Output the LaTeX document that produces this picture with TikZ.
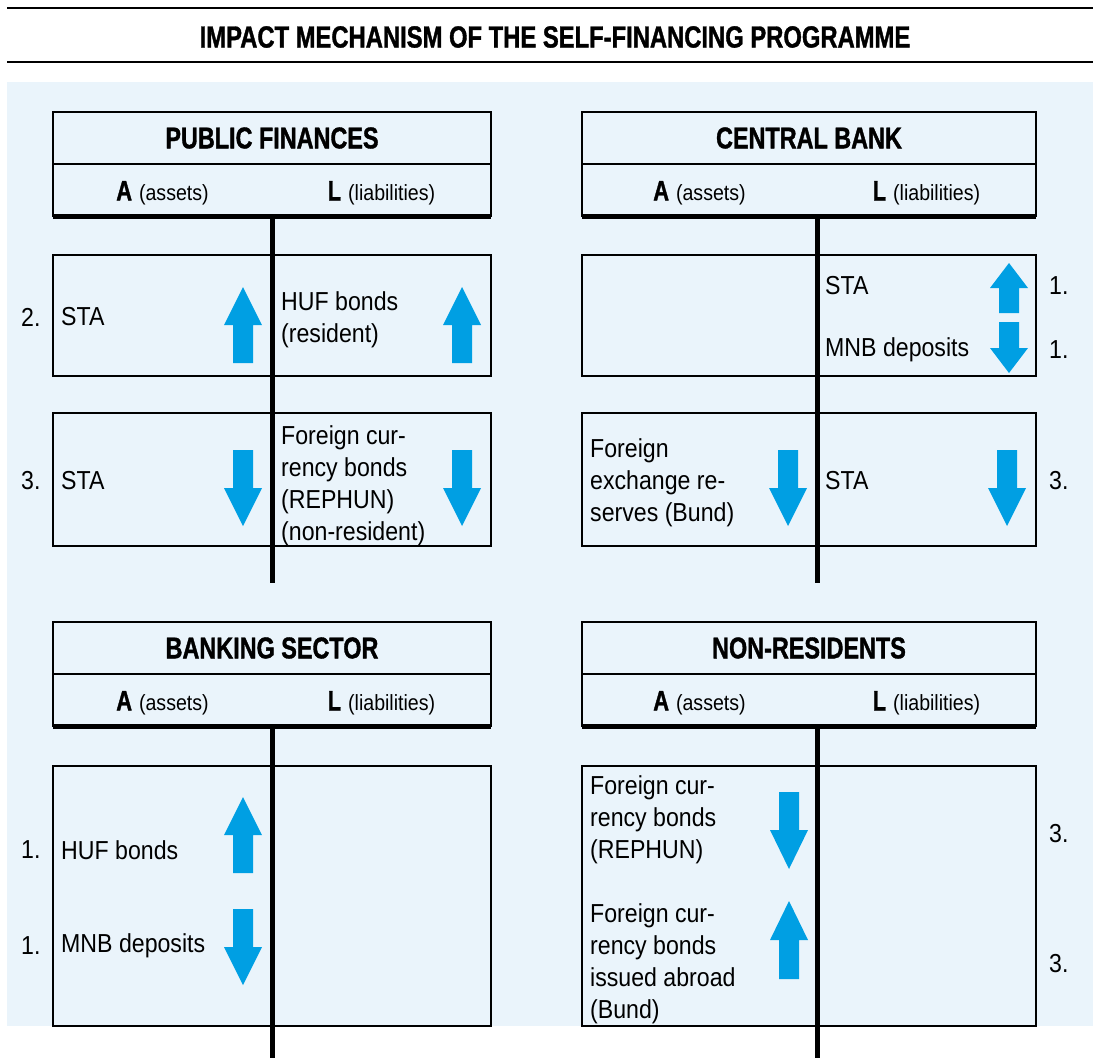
\documentclass[tikz,border=0pt]{standalone}
\usepackage{fontspec}
\setmainfont{Liberation Sans}[FakeStretch=0.89]
\newfontfamily\narrowbf{Liberation Sans}[FakeStretch=0.78,FakeBold=1.2]
\usetikzlibrary{positioning}

\definecolor{panelbg}{HTML}{EAF4FB}
\definecolor{arrowblue}{HTML}{009FE3}

\newcommand{\entryfont}{\fontsize{26}{32}\selectfont}
\newcommand{\headfont}{\narrowbf\bfseries\fontsize{30}{36}\selectfont}
\newcommand{\colhead}[2]{{\narrowbf\bfseries\fontsize{28}{30}\selectfont #1}\hspace{7pt}{\fontsize{22}{26}\selectfont(#2)}}

% block arrows: x centre, tip (or top) y, length, head length
\newcommand{\blockup}[4]{%
  \fill[arrowblue] (#1,#2) -- ({#1+19},{#2+#4}) -- ({#1+10},{#2+#4}) -- ({#1+10},{#2+#3})
    -- ({#1-10},{#2+#3}) -- ({#1-10},{#2+#4}) -- ({#1-19},{#2+#4}) -- cycle;}
\newcommand{\blockdown}[4]{%
  \fill[arrowblue] (#1,{#2+#3}) -- ({#1+19},{#2+#3-#4}) -- ({#1+10},{#2+#3-#4}) -- ({#1+10},#2)
    -- ({#1-10},#2) -- ({#1-10},{#2+#3-#4}) -- ({#1-19},{#2+#3-#4}) -- cycle;}

\tikzset{
  frame/.style={draw, line width=2.5pt},
  rule/.style={draw, line width=5pt},
  entry/.style={anchor=west, align=left, inner sep=0pt, font=\entryfont},
  numlabel/.style={anchor=west, inner sep=0pt, font=\entryfont},
  paneltitle/.style={inner sep=0pt, font=\headfont},
}

\begin{document}
\begin{tikzpicture}[x=1pt,y=-1pt]
	\useasboundingbox (0,0) rectangle (1093,1058);
	\fill[panelbg] (7,82) rectangle (1093,1026);
	\draw[line width=2pt] (7,8) -- (1093,8);
	\draw[line width=2pt] (7,62) -- (1093,62);
	\node[inner sep=0pt] (title) at (555,37)
		{\narrowbf\bfseries\fontsize{30.5}{36}\selectfont IMPACT MECHANISM OF THE SELF-FINANCING PROGRAMME};

	% entry boxes
	\draw[frame] (53,255) rectangle (491,376);
	\draw[frame] (53,413) rectangle (491,546);
	\draw[frame] (582,255) rectangle (1036,376);
	\draw[frame] (582,413) rectangle (1036,546);
	\draw[frame] (53,766) rectangle (491,1026);
	\draw[frame] (582,766) rectangle (1036,1026);

	% T-account heads
	\foreach \nm/\xl/\xr/\xv/\yt/\yb/\ttl in {pf/53/491/272/112/583/PUBLIC FINANCES,
			cb/582/1036/817/112/583/CENTRAL BANK, bs/53/491/272/622/1058/BANKING SECTOR,
			nr/582/1036/817/622/1058/NON-RESIDENTS}{
		\draw[frame] (\xl,\yt) rectangle (\xr,{\yt+104});
		\draw[frame] (\xl,{\yt+52}) -- (\xr,{\yt+52});
		\draw[rule] (\xl,{\yt+104}) -- (\xr,{\yt+104});
		\node[paneltitle] (\nm) at ({(\xl+\xr)/2},{\yt+26}) {\ttl};
		\node[inner sep=0pt] (\nm-A) at ({(\xl+\xv)/2},{\yt+81}) {\colhead{A}{assets}};
		\node[inner sep=0pt] (\nm-L) at ({(\xv+\xr)/2},{\yt+81}) {\colhead{L}{liabilities}};
		\coordinate (\nm-top) at (\xv,{\yt+104});
		\coordinate (\nm-bot) at (\xv,\yb);
		\draw[rule] (\nm-top) -- (\nm-bot);
	}

	% public finances
	\node[numlabel] (pf2) at (21,317) {2.};
	\node[entry] (pfsta) at (61,317) {STA};
	\node[entry] (pfhuf) at (281,320) {HUF bonds\\(resident)};
	\blockup{243}{287}{76}{38}
	\blockup{462}{287}{76}{38}
	\node[numlabel] (pf3) at (21,481) {3.};
	\node[entry] (pfsta2) at (61,481) {STA};
	\node[entry] (pffx) at (281,486) {Foreign cur-\\rency bonds\\(REPHUN)\\(non-resident)};
	\blockdown{243}{450}{76}{38}
	\blockdown{462}{450}{76}{38}

	% central bank
	\node[entry] (cbsta) at (825,286) {STA};
	\node[entry] (cbmnb) at (825,350) {MNB deposits};
	\node[numlabel] (cb1a) at (1049,286) {1.};
	\node[numlabel] (cb1b) at (1049,350) {1.};
	\blockup{1009}{263}{50}{25}
	\blockdown{1009}{322}{51}{25}
	\node[entry] (cbfx) at (590,483) {Foreign\\exchange re-\\serves (Bund)};
	\node[entry] (cbsta2) at (825,481) {STA};
	\node[numlabel] (cb3) at (1049,481) {3.};
	\blockdown{788}{450}{76}{38}
	\blockdown{1007}{450}{76}{38}

	% banking sector
	\node[numlabel] (bs1a) at (21,850) {1.};
	\node[entry] (bshuf) at (61,850) {HUF bonds};
	\node[numlabel] (bs1b) at (21,946) {1.};
	\node[entry] (bsmnb) at (61,946) {MNB deposits};
	\blockup{243}{797}{76}{38}
	\blockdown{243}{909}{76}{38}

	% non-residents
	\node[entry] (nrrep) at (590,820) {Foreign cur-\\rency bonds\\(REPHUN)};
	\node[entry] (nrbund) at (590,964) {Foreign cur-\\rency bonds\\issued abroad\\(Bund)};
	\node[numlabel] (nr3a) at (1049,834) {3.};
	\node[numlabel] (nr3b) at (1049,964) {3.};
	\blockdown{789}{792}{77}{39}
	\blockup{789}{901}{78}{39}
\end{tikzpicture}
\end{document}
